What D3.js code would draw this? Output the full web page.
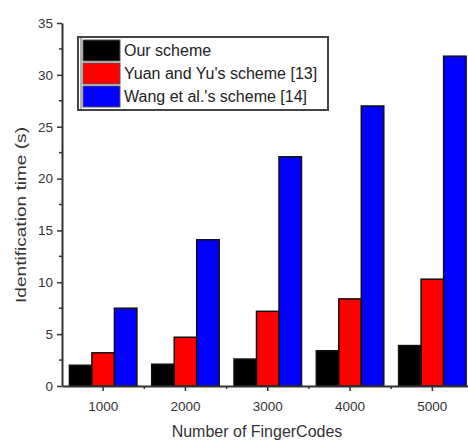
<!DOCTYPE html>
<html>
<head>
  <meta charset="utf-8">
  <style>
    body { margin: 0; background: #fff; font-family: "Liberation Sans", Arial, sans-serif; }
    .axis text { fill: #333; font-size: 13.5px; }
    .axis path, .axis line { stroke: #333; }
  </style>
</head>
<body>
  <div id="chart"></div>
  <script src="https://cdn.jsdelivr.net/npm/d3@7"></script>
  <script>
    // data
    const categories = ["1000", "2000", "3000", "4000", "5000"];
    const seriesNames = ["Our scheme", "Yuan and Yu's scheme [13]", "Wang et al.'s scheme [14]"];
    const seriesColors = ["#000000", "#ff0000", "#0000ff"];
    const ourScheme = [2.0, 2.1, 2.6, 3.4, 3.9];
    const yuanScheme = [3.2, 4.7, 7.2, 8.4, 10.3];
    const wangScheme = [7.5, 14.1, 22.1, 27.0, 31.8];
    const yTicks = [0, 5, 10, 15, 20, 25, 30, 35];

    const W = 468, H = 442;
    const margin = { top: 23, left: 62, bottom: 56 };
    const plotBottom = H - margin.bottom; // 386
    const step = 82.3;

    const svg = d3.select("#chart").append("svg")
      .attr("width", W).attr("height", H);

    const x = d3.scaleBand()
      .domain(categories)
      .range([margin.left, margin.left + step * categories.length])
      .padding(0);

    const inner = d3.scaleBand()
      .domain(d3.range(seriesNames.length))
      .range([7.4, x.bandwidth() - 7.4])
      .padding(0);

    const y = d3.scaleLinear()
      .domain([0, 35])
      .range([plotBottom, margin.top]);

    const rows = categories.map((c, i) => ({
      cat: c,
      vals: [ourScheme[i], yuanScheme[i], wangScheme[i]]
    }));

    // bars
    const groups = svg.append("g").selectAll("g")
      .data(rows).enter().append("g")
      .attr("transform", d => `translate(${x(d.cat)},0)`);

    groups.selectAll("rect")
      .data(d => d.vals.map((v, k) => ({ v, k })))
      .enter().append("rect")
      .attr("x", d => inner(d.k))
      .attr("width", inner.bandwidth())
      .attr("y", d => y(d.v))
      .attr("height", d => plotBottom - y(d.v))
      .attr("fill", d => seriesColors[d.k])
      .attr("stroke", "#111")
      .attr("stroke-width", 1.5);

    // y axis with minor ticks
    const yAxis = svg.append("g")
      .attr("class", "axis")
      .attr("transform", `translate(${margin.left},0)`)
      .call(d3.axisLeft(y).tickValues(yTicks).tickSize(5).tickSizeOuter(0).tickPadding(4));
    yAxis.select(".domain").attr("stroke-width", 2);
    yAxis.selectAll(".tick line").attr("stroke-width", 1.5);
    svg.append("g").selectAll("line")
      .data(yTicks.slice(0, -1).map(v => v + 2.5))
      .enter().append("line")
      .attr("x1", margin.left - 3).attr("x2", margin.left)
      .attr("y1", d => y(d)).attr("y2", d => y(d))
      .attr("stroke", "#333").attr("stroke-width", 1.5);

    // x axis with minor ticks at the band boundaries
    const xAxis = svg.append("g")
      .attr("class", "axis")
      .attr("transform", `translate(0,${plotBottom})`)
      .call(d3.axisBottom(x).tickSize(5).tickSizeOuter(0).tickPadding(10));
    xAxis.select(".domain").attr("stroke-width", 2);
    xAxis.selectAll(".tick line").attr("stroke-width", 1.5);
    svg.append("g").selectAll("line")
      .data(categories.slice(1))
      .enter().append("line")
      .attr("x1", d => x(d)).attr("x2", d => x(d))
      .attr("y1", plotBottom).attr("y2", plotBottom + 3)
      .attr("stroke", "#333").attr("stroke-width", 1.5);

    // axis titles
    svg.append("text")
      .attr("x", 257).attr("y", 437)
      .attr("text-anchor", "middle")
      .attr("fill", "#333")
      .style("font-size", "16px")
      .text("Number of FingerCodes");

    svg.append("text")
      .attr("transform", "translate(26,215) rotate(-90)")
      .attr("text-anchor", "middle")
      .attr("fill", "#333")
      .attr("textLength", 176)
      .attr("lengthAdjust", "spacingAndGlyphs")
      .style("font-size", "14px")
      .text("Identification time (s)");

    // legend
    const legend = svg.append("g");
    legend.append("rect")
      .attr("x", 78).attr("y", 37)
      .attr("width", 250).attr("height", 73)
      .attr("fill", "#fff").attr("stroke", "#444").attr("stroke-width", 2);
    legend.append("line")
      .attr("x1", 81).attr("x2", 81).attr("y1", 38).attr("y2", 109)
      .attr("stroke", "#666").attr("stroke-width", 1);
    const items = legend.selectAll("g.item")
      .data(seriesNames).enter().append("g")
      .attr("class", "item")
      .attr("transform", (d, i) => `translate(0,${40 + i * 23})`);
    items.append("rect")
      .attr("x", 83).attr("y", 0)
      .attr("width", 37).attr("height", 21)
      .attr("fill", (d, i) => seriesColors[i])
      .attr("stroke", "#555").attr("stroke-width", 1);
    items.append("text")
      .attr("x", 124).attr("y", 16)
      .attr("fill", "#222")
      .style("font-size", "16px")
      .text(d => d);
  </script>
</body>
</html>
